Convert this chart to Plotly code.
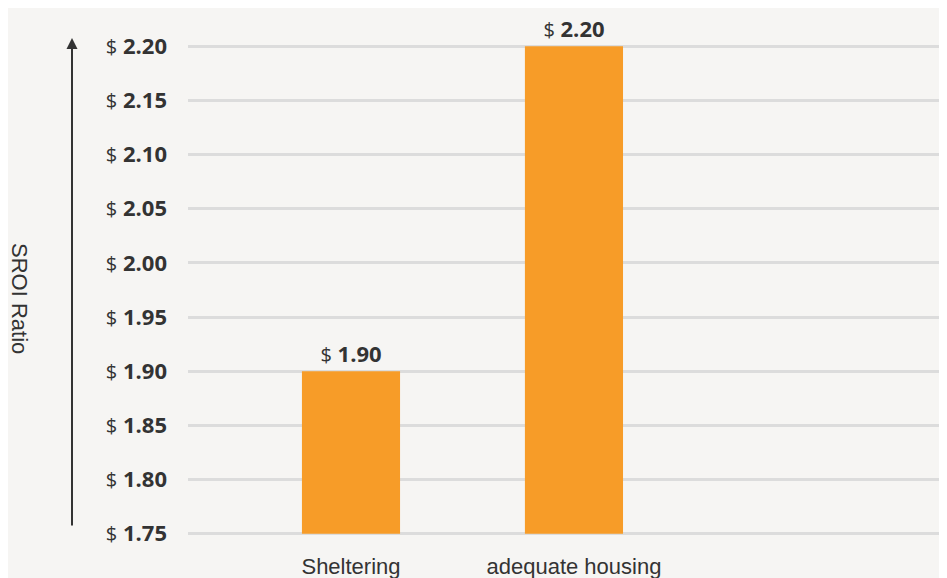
import plotly.graph_objects as go

categories = ["Sheltering", "adequate housing"]
sroi_values = [1.90, 2.20]
axis_floor = 1.75
tick_values = [1.75, 1.80, 1.85, 1.90, 1.95, 2.00, 2.05, 2.10, 2.15, 2.20]


def money(v):
    return f"<span style='font-size:20px;font-weight:400'>$</span> <b>{v:.2f}</b>"


tick_labels = [money(v) for v in tick_values]
bar_labels = [money(v) for v in sroi_values]

BG = "#f6f5f3"
ORANGE = "#f79c28"
TEXT = "#333333"

fig = go.Figure()
fig.add_trace(go.Bar(
    x=[0, 1],
    y=[v - axis_floor for v in sroi_values],
    base=axis_floor,
    width=0.44,
    marker=dict(color=ORANGE, line=dict(width=0)),
    text=bar_labels, textposition="outside",
    textfont=dict(family="Open Sans, sans-serif", size=22, color=TEXT),
    cliponaxis=False,
    hoverinfo="skip",
))

W, H = 939, 570
L, T, B = 180, 35, 41
PW = W - L
PH = H - T - B

fig.update_layout(
    width=W, height=H,
    margin=dict(l=L, r=0, t=T, b=B, pad=0, autoexpand=False),
    paper_bgcolor=BG, plot_bgcolor=BG,
    showlegend=False,
    font=dict(family="Open Sans, sans-serif", color=TEXT),
    xaxis=dict(
        range=[-0.731, 2.673],
        tickvals=[0, 1], ticktext=categories,
        tickfont=dict(family="Liberation Sans, Arial, sans-serif", size=22, color=TEXT),
        showgrid=False, zeroline=False, showline=False,
        ticks="", ticklabelstandoff=14, automargin=False,
        fixedrange=True,
    ),
    yaxis=dict(
        range=[1.747, 2.203],
        tickvals=tick_values, ticktext=tick_labels,
        tickfont=dict(family="Open Sans, sans-serif", size=22, color=TEXT),
        showgrid=True, gridcolor="#dcdcdc", gridwidth=2.5,
        zeroline=False, showline=False, ticks="",
        ticklabelstandoff=20, automargin=False,
        fixedrange=True,
    ),
    annotations=[
        dict(
            text="SROI Ratio", textangle=90,
            xref="paper", yref="paper",
            x=(12 - L) / PW, y=(T + PH - 290) / PH, showarrow=False,
            font=dict(family="Liberation Sans, Arial, sans-serif", size=22, color=TEXT),
            xanchor="center", yanchor="middle",
        ),
        dict(
            text="", xref="paper", yref="paper",
            x=(64 - L) / PW, y=(T + PH - 30) / PH,
            ax=0, ay=489,
            showarrow=True, arrowhead=2, arrowsize=1.1, arrowwidth=2,
            arrowcolor=TEXT,
        ),
    ],
)

fig.write_html("out.html")
